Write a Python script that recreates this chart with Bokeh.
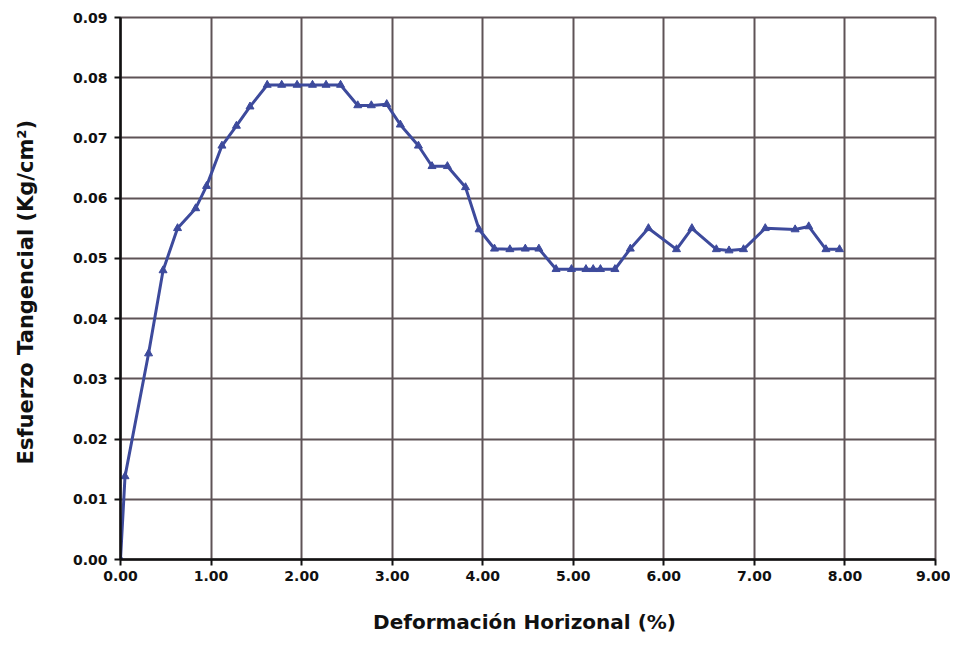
from bokeh.plotting import figure
from bokeh.models import Range1d, FixedTicker
from bokeh.embed import file_html
from bokeh.resources import INLINE

deformacion = [0.00, 0.05, 0.31, 0.47, 0.63, 0.83, 0.95, 1.12, 1.28, 1.43, 1.62, 1.78, 1.95, 2.12,
               2.27, 2.43, 2.62, 2.77, 2.94, 3.09, 3.29, 3.44, 3.61, 3.81, 3.96, 4.13, 4.30,
               4.47, 4.62, 4.81, 4.98, 5.14, 5.22, 5.30, 5.46, 5.63, 5.83, 6.14, 6.31, 6.58,
               6.72, 6.88, 7.12, 7.45, 7.60, 7.79, 7.94]
esfuerzo = [0.0000, 0.0138, 0.0342, 0.0480, 0.0550, 0.0583, 0.0620, 0.0687, 0.0720, 0.0752,
            0.0788, 0.0788, 0.0788, 0.0788, 0.0788, 0.0788, 0.0754, 0.0754, 0.0756, 0.0722,
            0.0687, 0.0653, 0.0653, 0.0618, 0.0548, 0.0516, 0.0515, 0.0516, 0.0516, 0.0482,
            0.0482, 0.0482, 0.0482, 0.0482, 0.0482, 0.0516, 0.0550, 0.0515, 0.0550, 0.0515,
            0.0513, 0.0515, 0.0550, 0.0548, 0.0553, 0.0515, 0.0515]

x_ticks = [0, 1, 2, 3, 4, 5, 6, 7, 8, 9]
y_ticks = [0.00, 0.01, 0.02, 0.03, 0.04, 0.05, 0.06, 0.07, 0.08, 0.09]
x_title = "Deformación  Horizonal (%)"
y_title = "Esfuerzo Tangencial  (Kg/cm²)"

FONT = "DejaVu Sans"
GRID = "#5e5356"
LINE = "#3d4a9c"

p = figure(width=950, height=638, output_backend="svg", toolbar_location=None,
           x_range=Range1d(0, 9), y_range=Range1d(0, 0.09),
           min_border_left=120, min_border_right=15, min_border_top=17, min_border_bottom=79)

p.line(deformacion, esfuerzo, line_color=LINE, line_width=3)
p.scatter(deformacion, esfuerzo, marker="triangle", size=8, fill_color=LINE, line_color=LINE)

p.xaxis.ticker = FixedTicker(ticks=x_ticks)
p.yaxis.ticker = FixedTicker(ticks=y_ticks)
p.xaxis.major_label_overrides = {t: f"{t:.2f}" for t in x_ticks}
p.yaxis.major_label_overrides = {t: f"{t:.2f}" for t in y_ticks}
p.xaxis.minor_tick_line_color = None
p.yaxis.minor_tick_line_color = None

for ax in (p.xaxis[0], p.yaxis[0]):
    ax.axis_line_color = "#111111"
    ax.axis_line_width = 2.5
    ax.major_tick_line_color = "#111111"
    ax.major_tick_line_width = 2
    ax.major_tick_in = 0
    ax.major_tick_out = 6
    ax.major_label_text_font = FONT
    ax.major_label_text_font_style = "bold"
    ax.major_label_text_font_size = "14px"
    ax.major_label_text_color = "#111111"
    ax.axis_label_text_font = FONT
    ax.axis_label_text_font_style = "bold"
    ax.axis_label_text_color = "#111111"

p.xaxis.axis_label = x_title
p.xaxis.axis_label_text_font_size = "20px"
p.xaxis.axis_label_standoff = 26
p.xaxis.major_label_standoff = 5
p.yaxis.axis_label = y_title
p.yaxis.axis_label_text_font_size = "21px"
p.yaxis.axis_label_standoff = 32
p.yaxis.major_label_standoff = 7

p.xgrid.grid_line_color = GRID
p.ygrid.grid_line_color = GRID
p.xgrid.grid_line_width = 2
p.ygrid.grid_line_width = 2
p.outline_line_color = GRID
p.outline_line_width = 2

open("out.html", "w").write(file_html(p, INLINE))
